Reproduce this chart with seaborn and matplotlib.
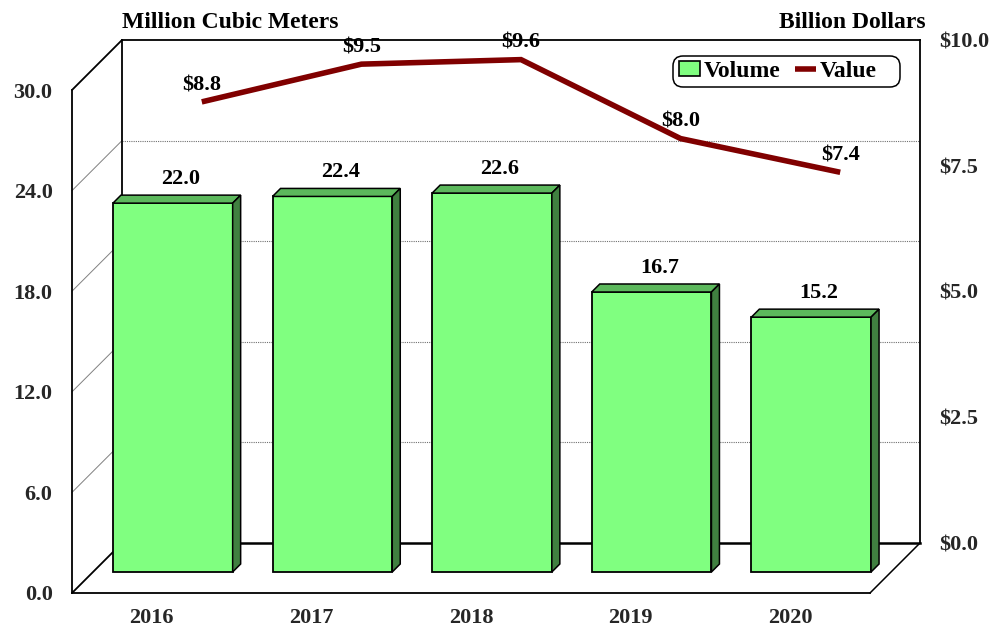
import matplotlib
matplotlib.use('Agg')
import matplotlib.pyplot as plt
import seaborn as sns
from matplotlib.lines import Line2D
from matplotlib.patches import FancyBboxPatch, Patch, Polygon
from matplotlib.transforms import IdentityTransform

years = ['2016', '2017', '2018', '2019', '2020']
volume = [22.0, 22.4, 22.6, 16.7, 15.2]
value = [8.77, 9.52, 9.61, 8.04, 7.37]
volume_ticks = [0, 6, 12, 18, 24, 30]
value_ticks = [0, 2.5, 5, 7.5, 10]

W, H = 992, 628
FRONT_L, FRONT_R, FRONT_T, FRONT_B = 72, 870, 90, 593
WALL = 50      # depth of the box
BAR_SHIFT = 21 # bars stand this far back from the front plane
BAR_DEPTH = 8

GREEN = '#80ff80'
GREEN_TOP = '#5cb85c'
GREEN_SIDE = '#408040'
RED = '#800000'
FS = 16
TITLE_FS = 17

sns.set_theme(style='white')
plt.rcParams['font.family'] = ['Liberation Serif', 'DejaVu Serif']
plt.rcParams['font.weight'] = 'bold'


def add_axes(fig, shift):
    # axes over the plot box, moved back into the depth by shift pixels
    return fig.add_axes([(FRONT_L + shift) / W,
                         (H - FRONT_B + shift) / H,
                         (FRONT_R - FRONT_L) / W,
                         (FRONT_B - FRONT_T) / H])


fig = plt.figure(figsize=(W / 100, H / 100), dpi=100, facecolor='white')

# left wall and floor edges
frame = fig.add_axes([0, 0, 1, 1], zorder=0)
frame.set_xlim(0, W)
frame.set_ylim(H, 0)
frame.axis('off')
frame.plot([FRONT_L, FRONT_L + WALL], [FRONT_B, FRONT_B - WALL], color='black', lw=1.3)
frame.plot([FRONT_R, FRONT_R + WALL], [FRONT_B, FRONT_B - WALL], color='black', lw=1.1)
for t in volume_ticks[1:]:
    y = FRONT_B - t / volume_ticks[-1] * (FRONT_B - FRONT_T)
    top = t == volume_ticks[-1]
    frame.plot([FRONT_L, FRONT_L + WALL], [y, y - WALL],
               color='black' if top else '#808080', lw=1.3 if top else 0.7)

# front plane: left axis and years
front = add_axes(fig, 0)
front.set_zorder(1)
front.patch.set_visible(False)
front.set_xlim(-0.5, 4.5)
front.set_ylim(volume_ticks[0], volume_ticks[-1])
front.set_xticks(range(len(years)), years)
front.set_yticks(volume_ticks, [f'{t:.1f}' for t in volume_ticks])
front.tick_params(axis='both', length=0, labelsize=FS)
front.tick_params(axis='x', pad=11)
front.tick_params(axis='y', pad=14)
for s in ['top', 'right']:
    front.spines[s].set_visible(False)
for s in ['left', 'bottom']:
    front.spines[s].set_color('black')
    front.spines[s].set_linewidth(1.3)

# back wall: right axis, the grid follows the volume scale
back = add_axes(fig, WALL)
back.set_zorder(1)
back.patch.set_visible(False)
back.set_xlim(-0.5, 4.5)
back.set_ylim(value_ticks[0], value_ticks[-1])
back.set_xticks([])
back.yaxis.tick_right()
back.set_yticks(value_ticks, [f'${t:.1f}' for t in value_ticks])
back.tick_params(axis='y', length=0, labelsize=FS, pad=13.5)
for t in volume_ticks[1:-1]:
    back.axhline(t / volume_ticks[-1] * value_ticks[-1], color='#707070', lw=0.8, ls=(0, (1, 1)))
for s in back.spines.values():
    s.set_color('black')
    s.set_linewidth(1.3)
back.spines['bottom'].set_linewidth(1.8)

# bars
bars = add_axes(fig, BAR_SHIFT)
bars.set_zorder(2)
sns.barplot(x=years, y=volume, color=GREEN, saturation=1, width=0.75,
            edgecolor='black', linewidth=1.3, clip_on=False, ax=bars)
bars.set_xlim(-0.5, 4.5)
bars.set_ylim(volume_ticks[0], volume_ticks[-1])
bars.axis('off')
for bar, v in zip(list(bars.patches), volume):
    (l, b), (r, t) = bars.transData.transform(
        [(bar.get_x(), 0), (bar.get_x() + bar.get_width(), v)])
    d = BAR_DEPTH
    bars.add_patch(Polygon([(l, t), (l + d, t + d), (r + d, t + d), (r, t)],
                           closed=True, transform=IdentityTransform(), clip_on=False,
                           facecolor=GREEN_TOP, edgecolor='black', lw=1.1))
    bars.add_patch(Polygon([(r, t), (r + d, t + d), (r + d, b + d), (r, b)],
                           closed=True, transform=IdentityTransform(), clip_on=False,
                           facecolor=GREEN_SIDE, edgecolor='black', lw=1.1))
    bars.annotate(f'{v:.1f}', (bar.get_x() + bar.get_width() / 2, v),
                  xytext=(d * 0.72, 17.5), textcoords='offset points',
                  ha='center', va='center', fontsize=FS, color='black')

# value line
line = add_axes(fig, WALL)
line.set_zorder(3)
line.patch.set_visible(False)
sns.lineplot(x=years, y=value, color=RED, lw=4, sort=False, ax=line,
             solid_capstyle='butt', solid_joinstyle='miter')
line.set_xlim(-0.5, 4.5)
line.set_ylim(value_ticks[0], value_ticks[-1])
line.axis('off')
for i, v in enumerate(value):
    line.annotate(f'${v:.1f}', (i, v), xytext=(0, 12), textcoords='offset points',
                  ha='center', va='center', fontsize=FS, color='black',
                  annotation_clip=False)

# legend box is drawn apart, it has more room on the right than the left
line.add_patch(FancyBboxPatch((673, H - 87), 227, 31, boxstyle='round,pad=0,rounding_size=10',
                              transform=IdentityTransform(), clip_on=False,
                              facecolor='white', edgecolor='black', lw=1.1, zorder=4))
handles = [Patch(facecolor=GREEN, edgecolor='black', lw=1.2),
           Line2D([], [], color=RED, lw=4, solid_capstyle='butt')]
line.legend(handles, ['Volume', 'Value'], ncols=2, frameon=False,
            loc='center left', bbox_to_anchor=(679 / W, 1 - 71.5 / H),
            bbox_transform=fig.transFigure, fontsize=TITLE_FS,
            handlelength=0.89, handleheight=0.6, handletextpad=0.17,
            columnspacing=0.6, borderaxespad=0, borderpad=0, labelcolor='black')

fig.text(122 / W, 1 - 22 / H, 'Million Cubic Meters', fontsize=TITLE_FS, ha='left', va='center', color='black')
fig.text(926 / W, 1 - 22 / H, 'Billion Dollars', fontsize=TITLE_FS, ha='right', va='center', color='black')

fig.savefig('out.png', dpi=100, facecolor='white')
